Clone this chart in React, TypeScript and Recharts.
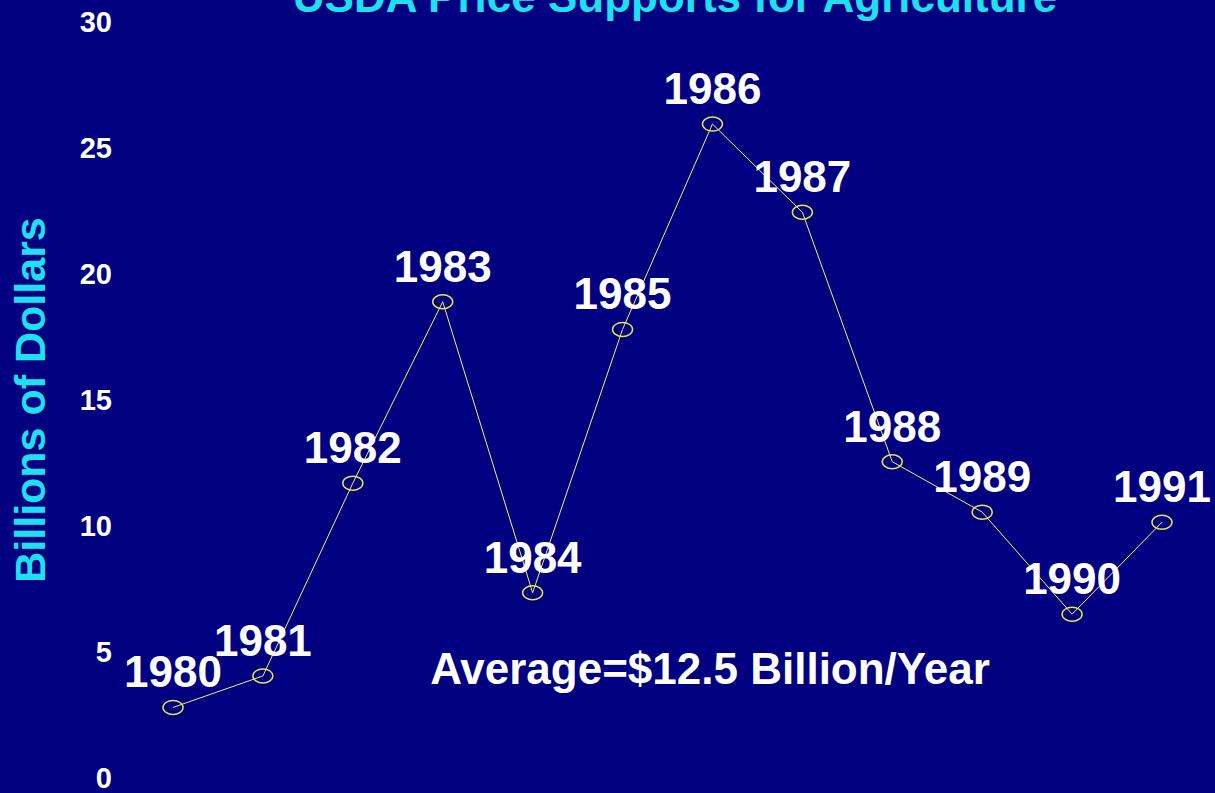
import { LineChart, Line, XAxis, YAxis, LabelList, Customized } from "recharts";

const years = [1980, 1981, 1982, 1983, 1984, 1985, 1986, 1987, 1988, 1989, 1990, 1991];
const supports = [2.8, 4.05, 11.7, 18.9, 7.35, 17.8, 25.95, 22.45, 12.55, 10.55, 6.5, 10.15];
const yTicks = [0, 5, 10, 15, 20, 25, 30];

const title = "USDA Price Supports for Agriculture";
const yTitle = "Billions of Dollars";
const note = "Average=$12.5 Billion/Year";

const chartData = years.map((year, i) => ({ year, value: supports[i] }));

const FONT = "'Liberation Sans', Arial, Helvetica, sans-serif";

// hollow ellipse markers like the old slide
const EllipseDot = (props: any) => {
  const { cx, cy } = props;
  if (cx == null || cy == null) return null;
  return <ellipse cx={cx} cy={cy} rx={10} ry={7} fill="none" stroke="#e6e64a" strokeWidth={1.5} />;
};

const YearLabel = (props: any) => {
  const { x, y, value } = props;
  return (
    <text x={x} y={y - 20} textAnchor="middle" fill="#ffffff" fontFamily={FONT} fontWeight="bold" fontSize={44}>
      {value}
    </text>
  );
};

const YTitle = (props: any) => {
  const { viewBox } = props;
  const cx = viewBox.x + 30;
  const cy = viewBox.y + viewBox.height / 2;
  return (
    <text
      x={cx}
      y={cy}
      transform={`rotate(-90 ${cx} ${cy})`}
      textAnchor="middle"
      dominantBaseline="central"
      fill="#1ee0f0"
      fontFamily={FONT}
      fontWeight="bold"
      fontSize={43}
    >
      {yTitle}
    </text>
  );
};

const Texts = () => (
  <g>
    {/* the title is clipped at the top edge in the original slide too */}
    <text x={675} y={12} textAnchor="middle" fill="#1ee0f0" fontFamily={FONT} fontWeight="bold" fontSize={44}>
      {title}
    </text>
    <text x={710} y={684} textAnchor="middle" fill="#ffffff" fontFamily={FONT} fontWeight="bold" fontSize={44}>
      {note}
    </text>
  </g>
);

export default function App() {
  return (
    <div style={{ position: "fixed", left: 0, top: 0, width: 1215, height: 793, background: "#000080" }}>
      <LineChart width={1215} height={793} data={chartData} margin={{ top: 22, right: 53, left: 0, bottom: 15 }}>
        <XAxis dataKey="year" type="number" domain={[1980, 1991]} hide />
        <YAxis
          domain={[0, 30]}
          ticks={yTicks}
          interval={0}
          width={173}
          axisLine={false}
          tickLine={false}
          tickSize={0}
          tickMargin={61}
          tick={{ fill: "#ffffff", fontSize: 29, fontWeight: "bold", fontFamily: FONT }}
          label={<YTitle />}
        />
        {/* labels first so the line sits on top of them */}
        <Line dataKey="value" stroke="none" dot={false} activeDot={false} isAnimationActive={false}>
          <LabelList dataKey="year" content={<YearLabel />} />
        </Line>
        <Line
          dataKey="value"
          type="linear"
          stroke="#f0f07a"
          strokeWidth={1}
          dot={<EllipseDot />}
          activeDot={false}
          isAnimationActive={false}
        />
        <Customized component={Texts} />
      </LineChart>
    </div>
  );
}
